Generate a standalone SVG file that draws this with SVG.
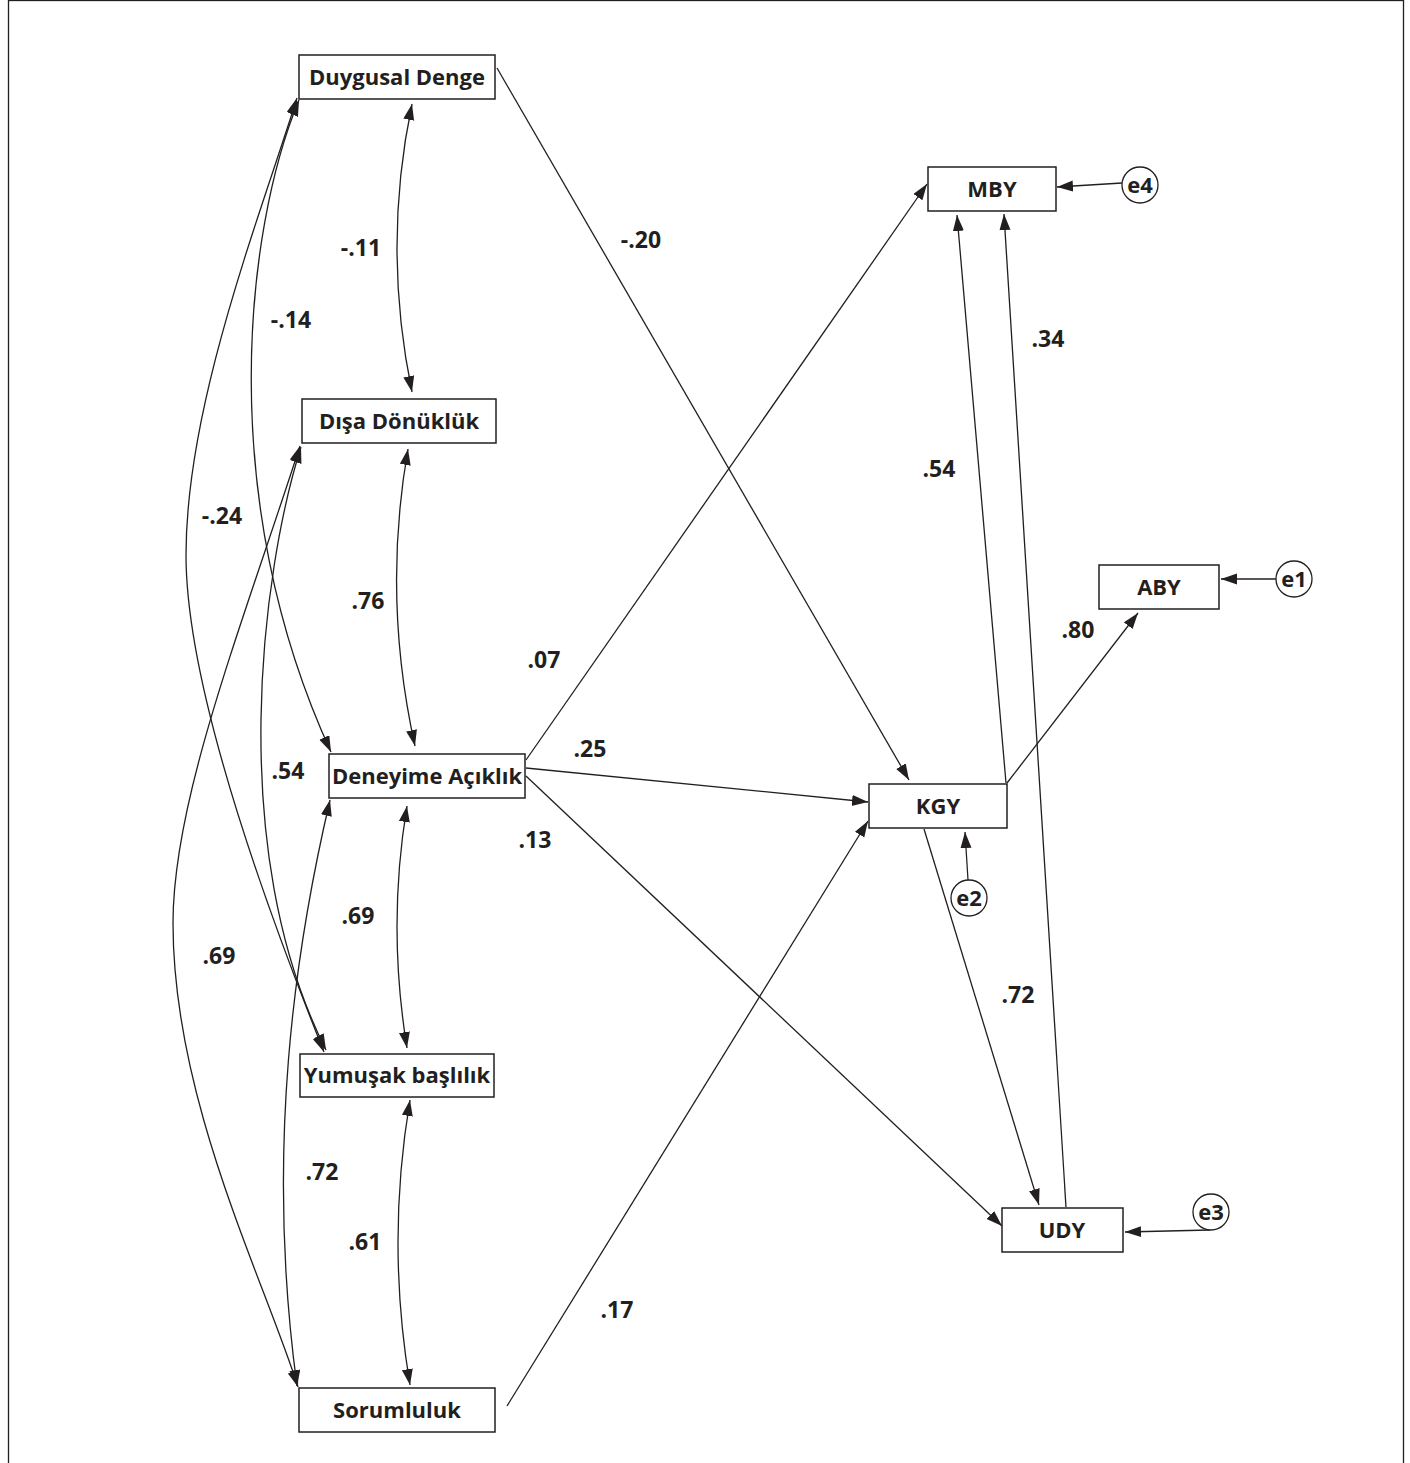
<svg xmlns="http://www.w3.org/2000/svg" width="1410" height="1463" viewBox="0 0 1410 1463">
<defs>
<marker id="ah" markerUnits="userSpaceOnUse" markerWidth="17" markerHeight="12" refX="16" refY="5.5" orient="auto-start-reverse">
<path d="M0,0 L16,5.5 L0,11 z" fill="#231f20"/>
</marker>
</defs>
<style>
.box{fill:#fff;stroke:#231f20;stroke-width:1.5}
.c{fill:#fff;stroke:#231f20;stroke-width:1.3}
.t{font-family:"Open Sans","Liberation Sans",sans-serif;font-weight:bold;font-size:22px;fill:#231f20;text-anchor:middle}
.l{font-family:"Open Sans","Liberation Sans",sans-serif;font-weight:bold;font-size:23px;fill:#231f20;text-anchor:middle}
.e{fill:none;stroke:#231f20;stroke-width:1.3;marker-end:url(#ah)}
.d{fill:none;stroke:#231f20;stroke-width:1.3;marker-start:url(#ah);marker-end:url(#ah)}
</style>
<rect x="8.5" y="0.5" width="1395" height="1475" fill="#fff" stroke="#231f20" stroke-width="1.3"/>
<g id="connectors">
<path class="d" d="M412,104 Q382,247 412,392"/>
<path class="d" d="M408,449 Q382,597 415,746"/>
<path class="d" d="M407,806 Q387,926 407,1048"/>
<path class="d" d="M410,1100 Q386,1242 410,1385"/>
<path class="d" d="M299,100 C245,230 215,500 331,752"/>
<path class="d" d="M297,98 C259,219 186,405 186,555 C186,700 284,952 324,1052"/>
<path class="d" d="M301,447 C262,570 225,850 326,1050"/>
<path class="d" d="M300,446 C240,631 173,800 173,923 C173,1100 263,1277 298,1387"/>
<path class="d" d="M330,800 C295,950 265,1150 297,1386"/>
<path class="e" d="M497,68 L909,780"/>
<path class="e" d="M526,760 L927,184"/>
<path class="e" d="M526,768 L868,802"/>
<path class="e" d="M526,776 L1002,1226"/>
<path class="e" d="M507,1406 L868,821"/>
<path class="e" d="M1006,783 L957,215"/>
<path class="e" d="M1007,783 L1138,613"/>
<path class="e" d="M924,829 L1039,1205"/>
<path class="e" d="M1066,1207 L1004,214"/>
<path class="e" d="M1122,183 L1057,187"/>
<path class="e" d="M1276,579 L1221,579"/>
<path class="e" d="M968,880 L965,832"/>
<path class="e" d="M1210,1230 L1125,1232"/>
</g>
<g id="labels">
<text class="l" x="361" y="256">-.11</text>
<text class="l" x="291" y="328">-.14</text>
<text class="l" x="222" y="524">-.24</text>
<text class="l" x="641" y="248">-.20</text>
<text class="l" x="1048" y="347">.34</text>
<text class="l" x="939" y="477">.54</text>
<text class="l" x="368" y="609">.76</text>
<text class="l" x="544" y="668">.07</text>
<text class="l" x="1078" y="638">.80</text>
<text class="l" x="590" y="757">.25</text>
<text class="l" x="288" y="779">.54</text>
<text class="l" x="535" y="848">.13</text>
<text class="l" x="358" y="924">.69</text>
<text class="l" x="219" y="964">.69</text>
<text class="l" x="1018" y="1003">.72</text>
<text class="l" x="322" y="1180">.72</text>
<text class="l" x="365" y="1250">.61</text>
<text class="l" x="617" y="1318">.17</text>
</g>
<g id="DuygusalDenge"><rect class="box" x="299" y="55" width="196" height="44"/><text class="t" x="397" y="85">Duygusal Denge</text></g>
<g id="DisaDonukluk"><rect class="box" x="302" y="399" width="194" height="44"/><text class="t" x="399" y="429">Dışa Dönüklük</text></g>
<g id="DeneyimeAciklik"><rect class="box" x="329" y="754" width="196" height="44"/><text class="t" x="427" y="784">Deneyime Açıklık</text></g>
<g id="YumusakBaslilik"><rect class="box" x="300" y="1054" width="194" height="43"/><text class="t" x="397" y="1083">Yumuşak başlılık</text></g>
<g id="Sorumluluk"><rect class="box" x="299" y="1388" width="196" height="44"/><text class="t" x="397" y="1418">Sorumluluk</text></g>
<g id="MBY"><rect class="box" x="928" y="167" width="128" height="44"/><text class="t" x="992" y="197">MBY</text></g>
<g id="ABY"><rect class="box" x="1099" y="565" width="120" height="44"/><text class="t" x="1159" y="595">ABY</text></g>
<g id="KGY"><rect class="box" x="869" y="784" width="138" height="44"/><text class="t" x="938" y="814">KGY</text></g>
<g id="UDY"><rect class="box" x="1002" y="1208" width="121" height="44"/><text class="t" x="1062" y="1238">UDY</text></g>
<g id="e4"><circle class="c" cx="1140" cy="185" r="18"/><text class="t" x="1140" y="193">e4</text></g>
<g id="e1"><circle class="c" cx="1294" cy="579" r="18"/><text class="t" x="1294" y="587">e1</text></g>
<g id="e2"><circle class="c" cx="969" cy="898" r="18"/><text class="t" x="969" y="906">e2</text></g>
<g id="e3"><circle class="c" cx="1211" cy="1212" r="18"/><text class="t" x="1211" y="1220">e3</text></g>
</svg>
